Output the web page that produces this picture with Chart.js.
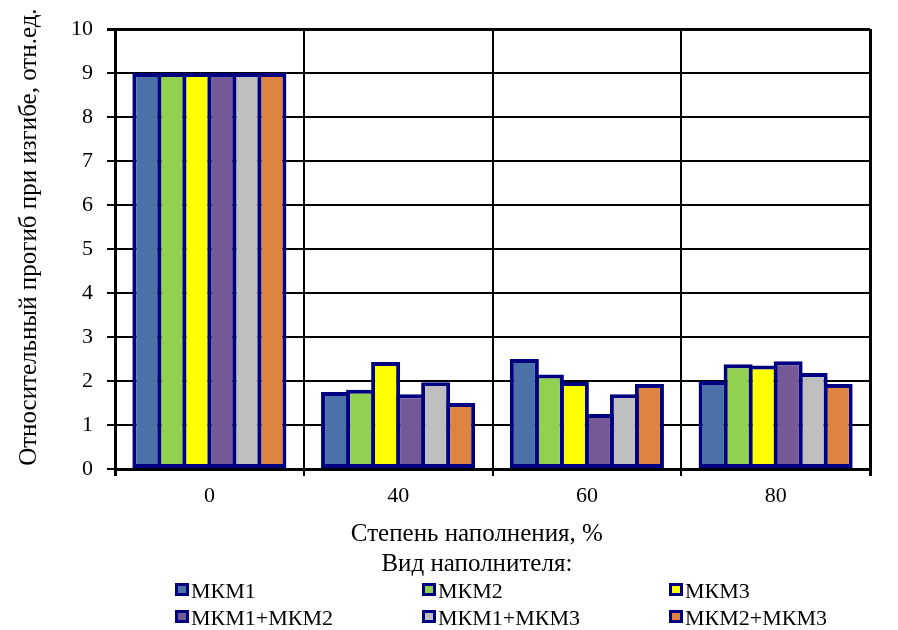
<!DOCTYPE html>
<html><head><meta charset="utf-8">
<script src="https://cdn.jsdelivr.net/npm/chart.js@4/dist/chart.umd.min.js"></script>
<style>
html,body{margin:0;padding:0;background:#fff;}
#wrap{position:relative;width:898px;height:630px;overflow:hidden;}
#c{position:absolute;left:0;top:0;}
.li{position:absolute;height:27px;line-height:27px;font-family:"Liberation Serif","Times New Roman",serif;font-size:22px;color:#000;white-space:nowrap;}
.li .bx{position:absolute;left:0;top:6px;width:14px;height:13px;box-sizing:border-box;border:3px solid #000080;}
.li .tx{position:absolute;left:16px;top:0;}
</style></head>
<body><div id="wrap"><canvas id="c" width="898" height="630"></canvas><div id="legend"></div></div>
<script>
const categories = ['0', '40', '60', '80'];
const seriesNames = ['МКМ1', 'МКМ2', 'МКМ3', 'МКМ1+МКМ2', 'МКМ1+МКМ3', 'МКМ2+МКМ3'];
const mkm1      = [9, 1.75, 2.50, 2.00];
const mkm2      = [9, 1.80, 2.15, 2.38];
const mkm3      = [9, 2.43, 1.98, 2.35];
const mkm1mkm2  = [9, 1.70, 1.25, 2.45];
const mkm1mkm3  = [9, 1.97, 1.70, 2.18];
const mkm2mkm3  = [9, 1.50, 1.93, 1.93];
const seriesColors = ['#4A72A8', '#92D050', '#FFFF00', '#735996', '#BFBFBF', '#DD8442'];
const yMin = 0, yMax = 10, yStep = 1;
const yTitle = '\u00A0\u00A0\u00A0\u2009Относительный прогиб при изгибе, отн.ед.';
const xTitle = ['Степень наполнения, %\u00A0\u00A0\u00A0\u00A0\u00A0', 'Вид наполнителя:\u00A0\u00A0\u00A0\u00A0\u00A0'];

const allSeries = [mkm1, mkm2, mkm3, mkm1mkm2, mkm1mkm3, mkm2mkm3];
const FONT = 'Liberation Serif';

const datasets = allSeries.map((vals, i) => ({
  label: seriesNames[i],
  data: vals,
  backgroundColor: seriesColors[i],
  borderColor: '#000080',
  borderWidth: 4,
  borderSkipped: false,
  categoryPercentage: 0.795,
  barPercentage: 1.16
}));

new Chart(document.getElementById('c'), {
  type: 'bar',
  data: { labels: categories, datasets },
  options: {
    responsive: false,
    animation: false,
    devicePixelRatio: 1,
    layout: { padding: { left: 0, right: 28, top: 29, bottom: 50 } },
    plugins: { legend: { display: false }, tooltip: { enabled: false } },
    scales: {
      x: {
        grid: {
          offset: true,
          color: '#000',
          lineWidth: ctx => (ctx.type !== 'tick' || ctx.index === 0) ? 3 : 2,
          tickLength: 7
        },
        border: { color: '#000', width: 3 },
        ticks: { color: '#000', font: { family: FONT, size: 22 }, padding: 7 },
        title: {
          display: true, text: xTitle, color: '#000',
          font: { family: FONT, size: 25, lineHeight: 29.5 / 25 },
          padding: { top: 0, bottom: 1 }
        },
        afterFit: s => { s.height = 111; }
      },
      y: {
        min: yMin, max: yMax,
        grid: {
          color: '#000',
          lineWidth: ctx => (ctx.tick && ctx.tick.value === yMax) ? 3 : 2,
          tickLength: 8
        },
        border: { color: '#000', width: 3 },
        ticks: { stepSize: yStep, color: '#000', font: { family: FONT, size: 22 }, padding: 14 },
        title: {
          display: true, text: yTitle, color: '#000',
          font: { family: FONT, size: 25 },
          padding: { top: 14, bottom: 0 }
        },
        afterFit: s => { s.width = 115; }
      }
    }
  }
});

// HTML legend built from series names/colors
const legendCols = [175, 422, 669];
const legendRows = [577, 604];
const legend = document.getElementById('legend');
seriesNames.forEach((name, i) => {
  const d = document.createElement('div');
  d.className = 'li';
  d.style.left = legendCols[i % 3] + 'px';
  d.style.top = legendRows[Math.floor(i / 3)] + 'px';
  const b = document.createElement('span');
  b.className = 'bx';
  b.style.background = seriesColors[i];
  const t = document.createElement('span');
  t.className = 'tx';
  t.textContent = name;
  d.appendChild(b); d.appendChild(t);
  legend.appendChild(d);
});
</script>
</body></html>
